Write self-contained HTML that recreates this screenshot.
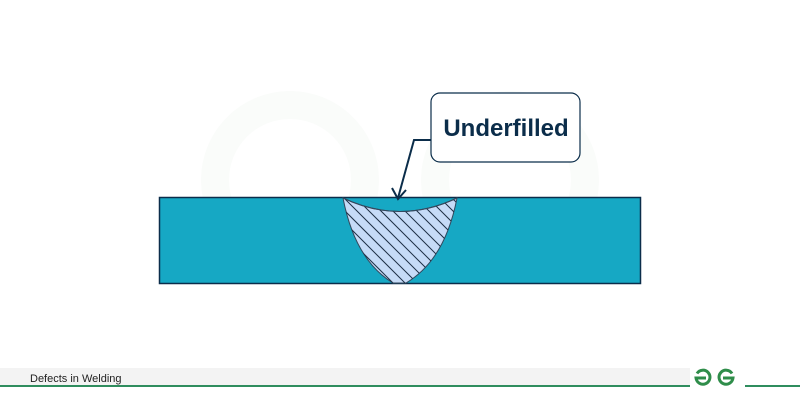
<!DOCTYPE html>
<html><head><style>
body{margin:0;width:800px;height:400px;background:#fff;overflow:hidden;font-family:"Liberation Sans",sans-serif}
</style></head><body>
<svg width="800" height="400" viewBox="0 0 800 400" xmlns="http://www.w3.org/2000/svg">
<defs>
<clipPath id="w"><path d="M343,198 Q400,225 457,198 Q445,260 406,283 L393,283 Q355,260 343,198 Z"/></clipPath>
</defs>
<g fill="none" stroke="#fafcfa" stroke-width="28">
<circle cx="290" cy="180" r="75"/><circle cx="510" cy="180" r="75"/>
</g>
<rect x="159.5" y="197.5" width="481" height="86" fill="#16a8c4" stroke="#0b2d4a" stroke-width="1.5"/>
<path d="M343,198 Q400,225 457,198 Q445,260 406,283 L393,283 Q355,260 343,198 Z" fill="#c6dbf7" stroke="#34495e" stroke-width="1"/>
<g clip-path="url(#w)" stroke="#1e2f45" stroke-width="1">
<path d="M250,140 l200,200 M262,140 l200,200 M274,140 l200,200 M286,140 l200,200 M298,140 l200,200 M310,140 l200,200 M322,140 l200,200 M334,140 l200,200 M346,140 l200,200 M358,140 l200,200 M370,140 l200,200 M382,140 l200,200 M394,140 l200,200 M406,140 l200,200 M418,140 l200,200 M430,140 l200,200 M238,140 l200,200 M226,140 l200,200"/>
</g>
<path d="M343,198 Q400,225 457,198" fill="none" stroke="#34495e" stroke-width="1"/>
<rect x="431" y="93" width="149" height="69" rx="9" fill="#fff" stroke="#0b2d4a" stroke-width="1.2"/>
<text x="506" y="136" text-anchor="middle" font-family="Liberation Sans" font-weight="bold" font-size="24" fill="#0b2d4a">Underfilled</text>
<polyline points="431,140 414,140 398,198" fill="none" stroke="#0b2d4a" stroke-width="2"/>
<polyline points="392,188 398,199 406,190" fill="none" stroke="#0b2d4a" stroke-width="2"/>
<rect x="0" y="368" width="690" height="18" fill="#f3f3f3"/>
<rect x="0" y="385" width="690" height="2" fill="#2f8d5e"/>
<rect x="745" y="385" width="55" height="2" fill="#2f8d5e"/>
<text x="30" y="382" font-size="11" fill="#222">Defects in Welding</text>
<g fill="none" stroke="#2f8d4a" stroke-width="3">
<path d="M697,373.5 A7,7 0 1 1 696,378 H706"/>
<path d="M732,373.5 A7,7 0 1 0 733,378 H723"/>
</g>
</svg>
</body></html>
